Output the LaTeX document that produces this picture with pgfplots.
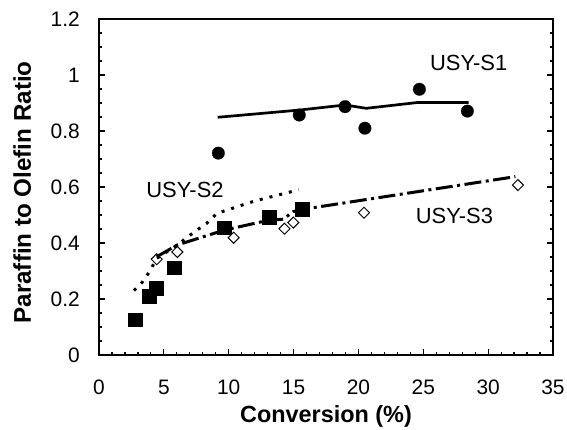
\documentclass[border=0pt]{standalone}
\usepackage{fontspec}
\setmainfont{Liberation Sans}
\usepackage{pgfplots}
\pgfplotsset{compat=1.18}

% Catalyst runs: paraffin/olefin ratio against conversion
\pgfplotstableread{
x y
9.2 0.721
15.44 0.857
18.97 0.887
20.5 0.81
24.7 0.949
28.4 0.871
}\sonepts
\pgfplotstableread{
x y
9.15 0.849
15.5 0.875
18.97 0.893
20.6 0.881
24.6 0.902
28.5 0.902
}\sonefit
\pgfplotstableread{
x y
2.78 0.127
3.86 0.21
4.39 0.238
5.78 0.312
9.66 0.455
13.13 0.493
15.65 0.521
}\stwopts
\pgfplotstableread{
x y
2.7 0.23
3.35 0.261
3.86 0.295
4.45 0.345
6.04 0.393
6.8 0.42
7.55 0.446
8.3 0.47
9.1 0.506
12.0 0.55
15.4 0.59
}\stwofit
\pgfplotstableread{
x y
4.45 0.342
6.04 0.368
10.38 0.419
14.3 0.451
14.98 0.473
20.43 0.508
32.3 0.607
}\sthreepts
\pgfplotstableread{
x y
4.45 0.351
6.04 0.393
9.66 0.446
13.13 0.482
14.2 0.485
14.98 0.512
15.65 0.52
20.43 0.554
32.1 0.637
}\sthreefit

\begin{document}
\begin{tikzpicture}
\path[use as bounding box] (-99bp,-75bp) rectangle (468bp,355bp);
\begin{axis}[
  scale only axis, width=454bp, height=336bp,
  xmin=0, xmax=35, ymin=0, ymax=1.2,
  xtick={0,5,10,15,20,25,30,35},
  ytick={0,0.2,0.4,0.6,0.8,1,1.2},
  yticklabels={0,0.2,0.4,0.6,0.8,1,1.2},
  minor x tick num=4, minor y tick num=3,
  xtick pos=bottom, ytick pos=both,
  tick align=inside,
  major tick length=6bp, minor tick length=3.5bp,
  axis line style={line width=1.8bp},
  every tick/.style={line width=1.2bp, black},
  /pgf/number format/assume math mode=true,
  ticklabel style={font=\fontsize{21}{24}\selectfont},
  xticklabel style={anchor=north, inner sep=0pt, yshift=-25bp},
  yticklabel style={anchor=east, inner sep=0pt, xshift=-19bp},
  every axis x label/.style={at={(axis description cs:0.5,-0.1488)}, anchor=north, inner sep=0pt,
    font=\fontsize{23.5}{26}\selectfont\bfseries},
  every axis y label/.style={at={(axis description cs:-0.1894,0.484)}, anchor=north, rotate=90, inner sep=0pt,
    font=\fontsize{24.3}{27}\selectfont\bfseries},
  xlabel={Conversion (\%)},
  ylabel={Paraffin to Olefin Ratio},
  clip=false,
]
% fitted trends
\addplot[black, line width=2.7bp, line join=round] table[x=x,y=y] {\sonefit};
\addplot[black, line width=3bp, dash pattern=on 3bp off 7bp] table[x=x,y=y] {\stwofit};
\addplot[black, line width=3bp, dash pattern=on 17bp off 4.5bp on 3bp off 4.5bp] table[x=x,y=y] {\sthreefit};
% measured points
\addplot[only marks, mark=*, mark size=6.3bp, mark options={fill=black, draw=black, line width=0.2bp}] table[x=x,y=y] {\sonepts};
\addplot[only marks, mark=square*, mark size=6.8bp, mark options={fill=black, draw=black, line width=0.2bp}] table[x=x,y=y] {\stwopts};
\addplot[only marks, mark=square, mark size=3.9bp, mark options={rotate=45, draw=black, fill=white, line width=1bp}] table[x=x,y=y] {\sthreepts};
% series names
\node[font=\fontsize{22}{26}\selectfont] at (axis cs:28.5,1.044) {USY-S1};
\node[font=\fontsize{22}{26}\selectfont] at (axis cs:6.63,0.589) {USY-S2};
\node[font=\fontsize{22}{26}\selectfont] at (axis cs:27.4,0.498) {USY-S3};
\end{axis}
\end{tikzpicture}
\end{document}
